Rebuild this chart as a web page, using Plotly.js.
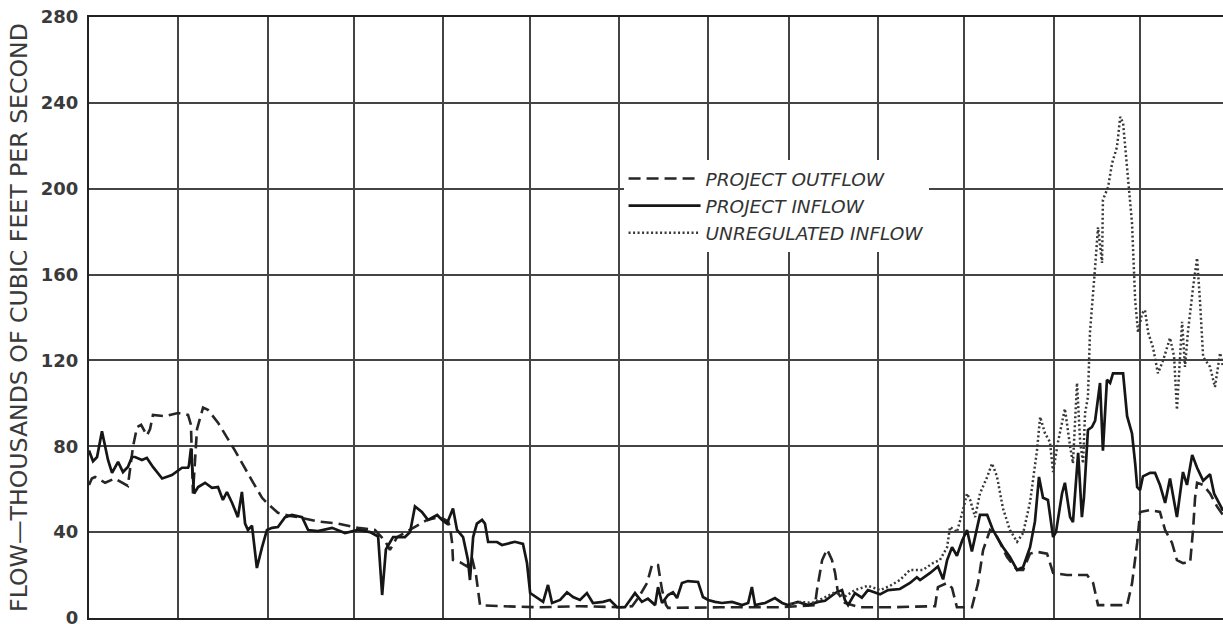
<!DOCTYPE html>
<html>
<head>
<meta charset="utf-8">
<script src="https://cdn.plot.ly/plotly-3.0.1.min.js"></script>
<style>
  html, body { margin: 0; padding: 0; background: #ffffff; }
  #chart { width: 1223px; height: 624px; }
</style>
</head>
<body>
<div id="chart"></div>
<script>
// Days counted from July 1; month boundaries drive the vertical grid
const monthStartDays = [0, 31, 62, 92, 123, 153, 184, 215, 243, 274, 304, 335, 365];
const flowTicks = [0, 40, 80, 120, 160, 200, 240, 280];

// Project outflow, thousands of cfs
const outflowDays = [0, 1.0, 2.1, 5.6, 9.0, 11.5, 13.5, 15.3, 16.7, 18.1, 20.1, 21.2, 22.2, 26.4, 30.9, 34.4, 35.4, 36.1, 37.5, 39.6, 41.3, 44.8, 50.7, 56.6, 60.1, 61.8, 65.6, 69.8, 72.6, 79.5, 86.5, 93.4, 99.3, 102.8, 104.5, 107.0, 112.5, 117.4, 121.9, 124.7, 125.4, 126.1, 126.4, 128.8, 131.3, 133.0, 134.4, 135.8, 142.7, 156.6, 170.5, 184.4, 188.6, 190.7, 193.8, 194.8, 195.5, 197.6, 199.0, 200.4, 201.1, 219.1, 240.0, 252.1, 252.8, 254.6, 256.3, 258.0, 259.1, 260.1, 262.5, 267.8, 278.2, 293.8, 294.8, 298.0, 299.7, 301.4, 306.6, 308.7, 310.5, 312.9, 315.3, 318.8, 322.3, 324.4, 326.8, 329.2, 332.7, 334.8, 339.6, 346.6, 348.7, 350.4, 360.5, 362.2, 364.0, 365.0, 368.5, 371.9, 373.7, 376.1, 377.8, 379.9, 382.4, 383.4, 384.1, 384.8, 386.9, 389.3, 391.7, 393.8];
const outflowFlow = [62, 65, 65.7, 63, 65, 63, 61.5, 80, 89, 90, 85, 88, 94.6, 94, 95.5, 94.6, 90, 58, 88, 98, 97, 91, 78, 64, 56, 53.6, 49, 47.5, 47, 45, 44, 42, 41, 36, 31.7, 37.7, 42, 45.7, 47, 45, 42, 35, 27, 26, 24, 28, 20, 6, 5.5, 5, 5.5, 5, 5.5, 9.3, 16.3, 21, 24.7, 24.7, 13, 6, 4.7, 5, 5, 6, 13, 27, 32, 27, 21, 11.6, 7, 5, 5, 5.5, 14.4, 16.3, 14, 5, 5, 16, 31.7, 41, 38, 28.4, 22.4, 22.4, 30, 30.8, 30, 21, 20, 20, 16.3, 6, 6, 16, 35, 49.4, 50.3, 49.4, 41, 35, 27, 25.6, 26, 41, 56, 63, 62, 58, 52, 48];

// Project inflow, thousands of cfs
const inflowDays = [0, 1.4, 2.8, 4.5, 6.6, 8.0, 10.1, 11.8, 13.5, 14.9, 16.0, 18.4, 20.1, 22.2, 25.4, 28.8, 32.3, 34.4, 34.7, 35.4, 36.5, 37.9, 40.3, 42.7, 44.8, 46.5, 47.9, 49.7, 51.7, 53.1, 54.2, 55.2, 56.6, 58.3, 60.1, 61.8, 63.6, 65.6, 68.1, 70.5, 74.0, 76.1, 79.5, 84.4, 88.9, 93.4, 97.6, 100.4, 101.8, 103.1, 105.6, 109.7, 111.5, 113.2, 115.6, 117.7, 120.9, 122.6, 124.3, 126.4, 127.8, 129.9, 131.6, 132.3, 133.4, 134.7, 136.5, 137.5, 138.6, 141.7, 143.4, 145.2, 147.9, 150.7, 152.1, 153.2, 155.6, 157.7, 159.4, 160.8, 163.6, 166.0, 168.1, 170.5, 172.9, 175.0, 178.5, 180.9, 183.4, 186.1, 187.9, 189.6, 192.0, 194.1, 196.6, 197.6, 199.0, 201.1, 202.8, 204.2, 205.9, 208.0, 211.5, 213.2, 215.0, 217.4, 219.8, 223.3, 226.8, 228.9, 230.2, 231.3, 234.8, 238.2, 240.7, 242.7, 246.2, 249.7, 253.2, 255.6, 259.1, 261.5, 262.5, 263.6, 266.0, 268.4, 270.5, 273.0, 274.7, 277.5, 281.6, 285.1, 287.5, 288.6, 292.1, 294.8, 296.6, 298.0, 299.7, 301.4, 303.2, 304.9, 306.6, 308.4, 309.4, 311.9, 313.9, 315.3, 317.4, 319.8, 320.9, 322.3, 324.4, 326.8, 328.5, 329.9, 331.3, 333.0, 334.8, 335.8, 337.9, 338.9, 340.7, 341.7, 343.5, 344.8, 345.5, 346.9, 348.3, 349.4, 351.1, 352.1, 353.5, 354.6, 355.6, 359.1, 360.5, 362.2, 363.3, 364.0, 365.0, 366.0, 368.5, 370.2, 371.9, 373.7, 375.4, 377.8, 379.9, 381.3, 383.1, 384.8, 386.9, 389.3, 390.7, 392.8, 393.8];
const inflowFlow = [78, 73, 75, 87, 73.6, 67.6, 72.7, 68, 70.4, 75, 75, 73.6, 74.6, 70.4, 65, 66.6, 70, 70, 71, 79, 58, 61, 63, 60.6, 61, 55, 58.7, 53.6, 47, 58.7, 44, 41, 43, 23.3, 33, 41, 42, 42.4, 47, 48, 47, 41, 40.5, 42, 39.6, 41, 40, 38, 10.7, 32, 37.7, 37.7, 40, 52, 49.4, 45.7, 48, 45.7, 44, 51, 41, 37.7, 27, 17.7, 37.7, 44, 45.7, 44, 35.4, 35.4, 34, 34.5, 35.5, 34.5, 25.6, 11.6, 9.3, 7.5, 15.4, 7, 8.4, 12, 9.8, 8.4, 11.6, 7, 7.5, 8.4, 5, 5, 8.4, 11.6, 7.5, 9, 6, 14.4, 7, 10.7, 12, 9.3, 16.3, 17.2, 16.8, 9.8, 8.4, 7.5, 7, 7.5, 6, 7, 14.4, 6, 7, 9.3, 7, 6, 7.5, 6, 7.5, 8, 11.6, 13, 8.4, 6, 11.6, 9.5, 13, 12, 11, 13, 13.5, 16.3, 19, 17.7, 21, 24, 18, 27, 33, 29, 36, 41, 31, 42, 48, 48, 41, 37.7, 33, 28.4, 25.6, 22.4, 23.8, 33, 45, 65.7, 56, 55, 37.7, 40, 58, 63, 47, 44.7, 77, 47, 56, 87.6, 89, 92, 109.5, 78, 111, 109.5, 114, 114, 94, 86, 72, 61, 59.6, 66, 67.6, 67.6, 62, 53.6, 65, 47, 68, 62, 76, 70, 64, 67, 58, 53, 50];

// Unregulated inflow, thousands of cfs (follows project inflow until late winter)
const unregDays = [243.4, 246.9, 251.1, 254.6, 259.1, 262.5, 266.0, 270.5, 274.7, 278.2, 281.6, 285.1, 289.6, 293.1, 295.5, 298.0, 299.0, 301.4, 303.5, 304.9, 306.0, 307.7, 309.4, 311.9, 313.6, 315.3, 317.4, 319.8, 322.3, 324.4, 326.8, 328.5, 329.2, 330.3, 332.0, 333.7, 334.8, 336.5, 338.9, 340.7, 341.7, 343.1, 344.2, 345.2, 345.9, 346.9, 347.6, 349.4, 350.4, 351.8, 352.1, 353.9, 355.3, 357.0, 358.1, 359.1, 360.5, 362.2, 363.3, 364.3, 365.7, 366.7, 367.8, 369.5, 371.2, 373.0, 375.4, 376.8, 377.8, 378.9, 379.6, 380.6, 381.6, 383.4, 384.8, 385.8, 386.9, 389.3, 391.0, 392.8, 393.8];
const unregFlow = [6.5, 7.5, 7, 9, 12, 10, 13, 15, 13, 15, 17.7, 22.4, 22.4, 25.6, 27, 33, 42.4, 40, 50.3, 58, 55, 47, 58, 65.7, 72, 66, 51, 41, 35.5, 39.6, 54, 70, 78, 93.7, 86, 82, 68, 82, 97.5, 80, 72, 109.5, 82, 72, 95.5, 103, 133, 163.6, 182, 165.4, 194.8, 200.8, 212, 219.5, 233.5, 230.7, 210, 184, 148, 133, 142, 143.5, 133, 126, 114, 120, 130.5, 122, 97, 120, 138, 117, 133, 154, 167.7, 148, 121.6, 117, 107.6, 123.5, 117];

const textFont = '"DejaVu Sans", "Liberation Sans", sans-serif';

const traces = [
  {
    x: outflowDays, y: outflowFlow, type: 'scatter', mode: 'lines',
    name: 'PROJECT OUTFLOW', legendgroup: 'out',
    line: { color: '#262626', width: 2.6, dash: '12px,6px' }
  },
  {
    x: inflowDays, y: inflowFlow, type: 'scatter', mode: 'lines',
    name: 'PROJECT INFLOW', legendgroup: 'in',
    line: { color: '#161616', width: 2.7 }
  },
  {
    x: unregDays, y: unregFlow, type: 'scatter', mode: 'lines',
    name: 'UNREGULATED INFLOW', legendgroup: 'unreg',
    line: { color: '#383838', width: 2.5, dash: '2px,2.5px' }
  }
];

const layout = {
  width: 1223,
  height: 624,
  margin: { l: 89, r: 0, t: 17, b: 6 },
  paper_bgcolor: '#ffffff',
  plot_bgcolor: '#ffffff',
  showlegend: true,
  legend: {
    x: 0.4714, y: 0.762, xanchor: 'left', yanchor: 'top',
    bgcolor: '#ffffff',
    borderwidth: 0,
    itemwidth: 72,
    tracegroupgap: 0,
    font: { family: textFont, size: 18.5, color: '#333333', style: 'italic' }
  },
  xaxis: {
    range: [0, 393.8],
    tickmode: 'array',
    tickvals: monthStartDays,
    showticklabels: false,
    ticks: '',
    showgrid: true,
    gridcolor: '#444444',
    gridwidth: 2,
    zeroline: false,
    showline: true,
    linecolor: '#222222',
    linewidth: 2,
    mirror: true
  },
  yaxis: {
    range: [0, 280],
    tickmode: 'array',
    tickvals: flowTicks,
    ticks: '',
    ticklabelstandoff: 5,
    ticklabeloverflow: 'allow',
    showgrid: true,
    gridcolor: '#444444',
    gridwidth: 2,
    zeroline: false,
    showline: true,
    linecolor: '#222222',
    linewidth: 2,
    tickfont: { family: textFont, size: 18, color: '#3a3a3a', weight: 'bold' },
    title: {
      text: 'FLOW\u2014THOUSANDS OF CUBIC FEET PER SECOND',
      font: { family: textFont, size: 23.6, color: '#3a3a3a' },
      standoff: 7
    }
  }
};

Plotly.newPlot('chart', traces, layout, { displayModeBar: false, staticPlot: true });
</script>
</body>
</html>
